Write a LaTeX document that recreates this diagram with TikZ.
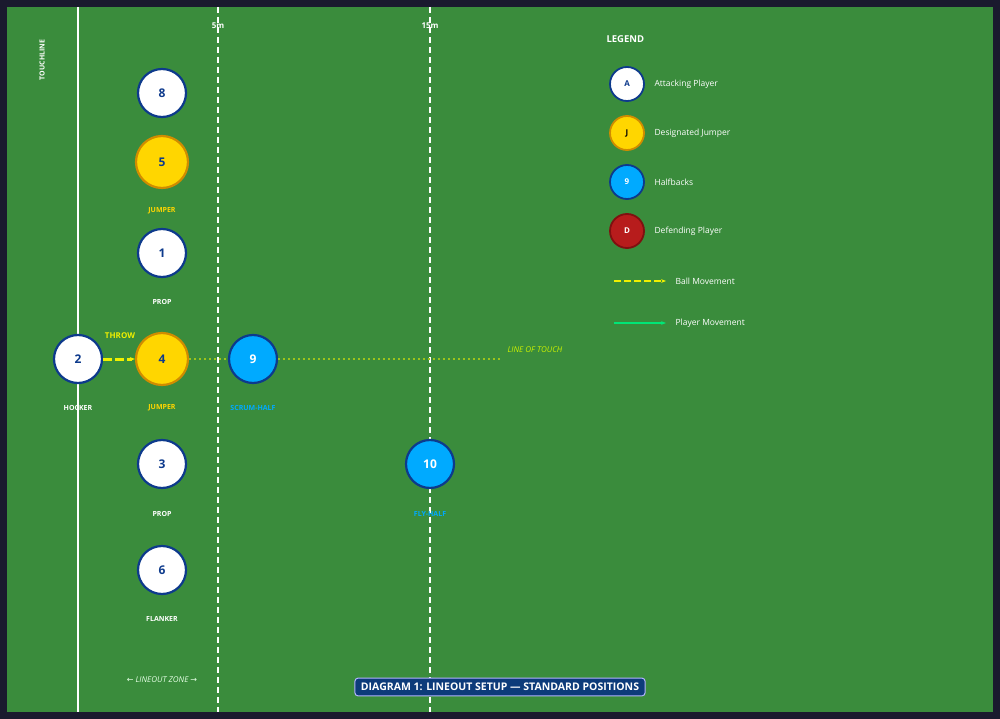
\documentclass[tikz,border=0pt]{standalone}
\usepackage{fontspec}
\setmainfont{Open Sans}
\newfontfamily\arrowfont{DejaVu Sans}
\usetikzlibrary{arrows.meta, positioning}
\definecolor{pitch}{HTML}{3A8C3C}
\definecolor{frame}{HTML}{1A1A2E}
\definecolor{navy}{HTML}{0D3A8C}
\definecolor{gold}{HTML}{FFD600}
\definecolor{goldedge}{HTML}{D08C00}
\definecolor{sky}{HTML}{00AAFF}
\definecolor{ballc}{HTML}{F0F000}
\definecolor{runc}{HTML}{00E676}
\definecolor{defc}{HTML}{B71C1C}
\definecolor{defedge}{HTML}{7F1010}
\definecolor{titlebg}{HTML}{0D3B7A}
\tikzstyle{attack} = [circle, minimum size=48pt, inner sep=0pt, draw=navy, line width=2.2pt, fill=white, text=navy, font=\fontsize{12}{12}\selectfont\bfseries]
\tikzstyle{jumper} = [attack, minimum size=52pt, draw=goldedge, fill=gold]
\tikzstyle{half} = [attack, fill=sky, text=white]
\tikzstyle{legattack} = [attack, minimum size=34pt, line width=1.8pt, font=\fontsize{8}{8}\selectfont\bfseries]
\tikzstyle{legjumper} = [legattack, draw=goldedge, fill=gold, text=black]
\tikzstyle{leghalf} = [legattack, fill=sky, text=white]
\tikzstyle{legdef} = [legattack, draw=defedge, fill=defc, text=white]
\tikzstyle{role} = [font=\fontsize{7}{7}\selectfont\bfseries, text=white]
\tikzstyle{legtext} = [anchor=west, font=\fontsize{8.5}{9}\selectfont, text=white]
\tikzstyle{fieldline} = [white, line width=1.2pt, dash pattern=on 6pt off 4pt]
\begin{document}
\begin{tikzpicture}[x=1pt, y=-1pt]
	\useasboundingbox (0,0) rectangle (1000,719);
	\fill [frame] (0,0) rectangle (1000,719);
	\fill [pitch] (7,7) rectangle (993,712);

	% pitch markings
	\draw [white, line width=2.5pt] (78,7) -- (78,712);
	\draw [fieldline] (218,7) -- (218,712);
	\draw [fieldline] (430,7) -- (430,712);
	\node (fivem) [role, font=\fontsize{8}{8}\selectfont\bfseries] at (218,26) {5m};
	\node (fifteenm) [role, font=\fontsize{8}{8}\selectfont\bfseries] at (430,26) {15m};
	\node (touchline) [role, rotate=90] at (42,60) {TOUCHLINE};

	% players
	\node (p8) [attack] at (162,93) {8};
	\node (p5) [jumper] at (162,162) {5};
	\node (p1) [attack] at (162,253) {1};
	\node (p2) [attack] at (78,359) {2};
	\node (p4) [jumper] at (162,359) {4};
	\node (p9) [half] at (253,359) {9};
	\node (p3) [attack] at (162,464) {3};
	\node (p10) [half] at (430,464) {10};
	\node (p6) [attack] at (162,570) {6};

	\node (r5) [role, text=gold] at (162,211) {JUMPER};
	\node (r1) [role] at (162,302) {PROP};
	\node (r2) [role] at (78,408) {HOCKER};
	\node (r4) [role, text=gold] at (162,408) {JUMPER};
	\node (r9) [role, text=sky] at (253,408) {SCRUM-HALF};
	\node (r3) [role] at (162,514) {PROP};
	\node (r10) [role, text=sky] at (430,514) {FLY-HALF};
	\node (r6) [role] at (162,619) {FLANKER};

	% line of touch and throw
	\coordinate (lotend) at (500,359);
	\draw [ballc!55!pitch, line width=1.1pt, dash pattern=on 1.5pt off 3.5pt] (p4) -- (p9) -- (lotend);
	\node (lot) [font=\fontsize{8}{8}\selectfont\itshape, text=ballc!85!green] at (535,350) {LINE OF TOUCH};
	\draw [ballc, line width=3pt, dash pattern=on 9pt off 3pt, -{Stealth[length=5pt]}] (p2) -- (p4);
	\node (throw) [font=\fontsize{8}{8}\selectfont\bfseries, text=ballc] at (120,336) {THROW};

	% legend
	\node (legend) [anchor=west, font=\fontsize{9.5}{10}\selectfont\bfseries, text=white] at (603,39) {LEGEND};
	\node (la) [legattack] at (627,84) {A};
	\node (lj) [legjumper] at (627,133) {J};
	\node (lh) [leghalf] at (627,182) {9};
	\node (ld) [legdef] at (627,231) {D};
	\node (lat) [legtext] at (651,84) {Attacking Player};
	\node (ljt) [legtext] at (651,133) {Designated Jumper};
	\node (lht) [legtext] at (651,182) {Halfbacks};
	\node (ldt) [legtext] at (651,231) {Defending Player};
	\coordinate (ballstart) at (614,281);
	\coordinate (ballend) at (666,281);
	\coordinate (runstart) at (614,323);
	\coordinate (runend) at (666,323);
	\draw [ballc, line width=2.2pt, dash pattern=on 7pt off 3pt, -{Stealth[length=5pt]}] (ballstart) -- (ballend);
	\draw [runc, line width=2.2pt, -{Stealth[length=5pt]}] (runstart) -- (runend);
	\node (ballt) [legtext] at (672,281) {Ball Movement};
	\node (runt) [legtext] at (672,323) {Player Movement};

	% footer
	\node (zone) [font=\fontsize{8}{8}\selectfont\itshape, text=white!90!green] at (162,680) {{\arrowfont ←} LINEOUT ZONE {\arrowfont →}};
	\node (title) [fill=titlebg, draw=white!70!blue, line width=1pt, rounded corners=3pt, text=white, font=\fontsize{10.5}{11}\selectfont\bfseries, inner xsep=6pt, inner ysep=5pt] at (500,687) {DIAGRAM 1: LINEOUT SETUP — STANDARD POSITIONS};
\end{tikzpicture}
\end{document}
